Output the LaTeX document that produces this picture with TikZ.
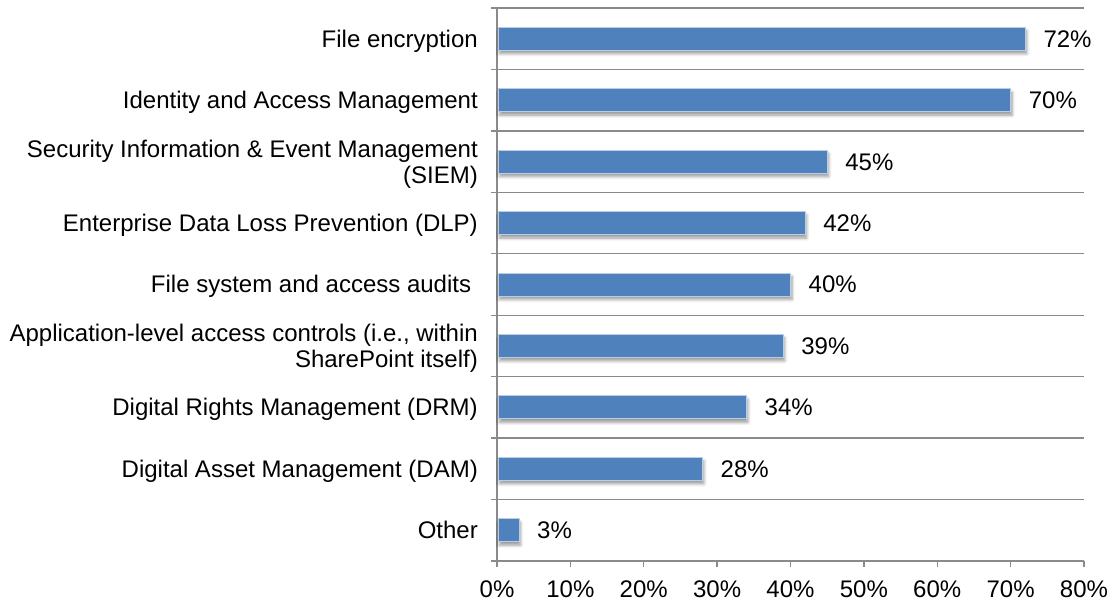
\documentclass[tikz,border=0pt]{standalone}
\usepackage{fontspec}
\setmainfont{Liberation Sans}
\usetikzlibrary{shadows.blur}
\definecolor{barblue}{HTML}{4F81BD}
\definecolor{baredge}{HTML}{B9CDE5}
\definecolor{gridgray}{HTML}{8A8A8A}
\newcommand{\chartfont}{\fontsize{24bp}{26bp}\selectfont}
\begin{document}
\begin{tikzpicture}[x=1bp,y=-1bp,
  gridline/.style={draw=gridgray, line width=1.4bp},
  barrect/.style={fill=barblue, draw=baredge, line width=0.8bp,
    blur shadow={shadow xshift=1.5bp, shadow yshift=-3.5bp,
      shadow blur radius=3bp, shadow blur steps=6, shadow opacity=40}},
  catlabel/.style={anchor=base east, inner sep=0pt, align=right, font=\chartfont},
  vallabel/.style={anchor=base west, inner sep=0pt, font=\chartfont},
  ticklabel/.style={anchor=base, inner sep=0pt, font=\chartfont}]
\useasboundingbox (0,0) rectangle (1112,601);

% category bands: top edge 8, height 61.444; value scale: 0% at 497, 1% = 7.3375
\def\band{61.444}
\def\xo{497}
\def\unit{7.3375}

% horizontal grid lines with left tick marks
\foreach \k in {0,...,8}
  \draw[gridline] (491,{8+\band*\k}) -- (1084,{8+\band*\k});

% axes
\draw[gridline] (\xo,8) -- (\xo,561);
\draw[gridline] (491,561) -- (1084,561);
\foreach \t in {0,...,8}
  \draw[gridline] ({\xo+10*\unit*\t},561) -- ({\xo+10*\unit*\t},567);

% bottom tick labels
\foreach \t in {0,...,8}
  \node[ticklabel] (tick\t) at ({\xo+10*\unit*\t},597) {\the\numexpr\t*10\relax\%};

% bars and value labels
\foreach \v [count=\i from 0] in {72,70,45,42,40,39,34,28,3} {
  \pgfmathsetmacro{\c}{8+\band*(\i+0.5)}
  \pgfmathsetmacro{\e}{\xo+\unit*\v}
  \path[barrect] (\xo+1,\c-11.5) rectangle (\e,\c+11.5);
  \node[vallabel] (val\i) at (\e+18,\c+8.5) {\v\%};
}

% category labels (a two-line label sits on the baseline of its last line)
\pgfmathsetmacro{\cA}{8+\band*0.5}
\pgfmathsetmacro{\cB}{8+\band*1.5}
\pgfmathsetmacro{\cC}{8+\band*2.5}
\pgfmathsetmacro{\cD}{8+\band*3.5}
\pgfmathsetmacro{\cE}{8+\band*4.5}
\pgfmathsetmacro{\cF}{8+\band*5.5}
\pgfmathsetmacro{\cG}{8+\band*6.5}
\pgfmathsetmacro{\cH}{8+\band*7.5}
\pgfmathsetmacro{\cI}{8+\band*8.5}
\node[catlabel] (cat0) at (478,\cA+8.5) {File encryption};
\node[catlabel] (cat1) at (478,\cB+8.5) {Identity and Access Management};
\node[catlabel] (cat2) at (478,\cC+21.5) {Security Information \& Event Management\\(SIEM)};
\node[catlabel] (cat3) at (478,\cD+8.5) {Enterprise Data Loss Prevention (DLP)};
\node[catlabel] (cat4) at (478,\cE+8.5) {File system and access audits\ };
\node[catlabel] (cat5) at (478,\cF+21.5) {Application-level access controls (i.e., within\\SharePoint itself)};
\node[catlabel] (cat6) at (478,\cG+8.5) {Digital Rights Management (DRM)};
\node[catlabel] (cat7) at (478,\cH+8.5) {Digital Asset Management (DAM)};
\node[catlabel] (cat8) at (478,\cI+8.5) {Other};
\end{tikzpicture}
\end{document}
